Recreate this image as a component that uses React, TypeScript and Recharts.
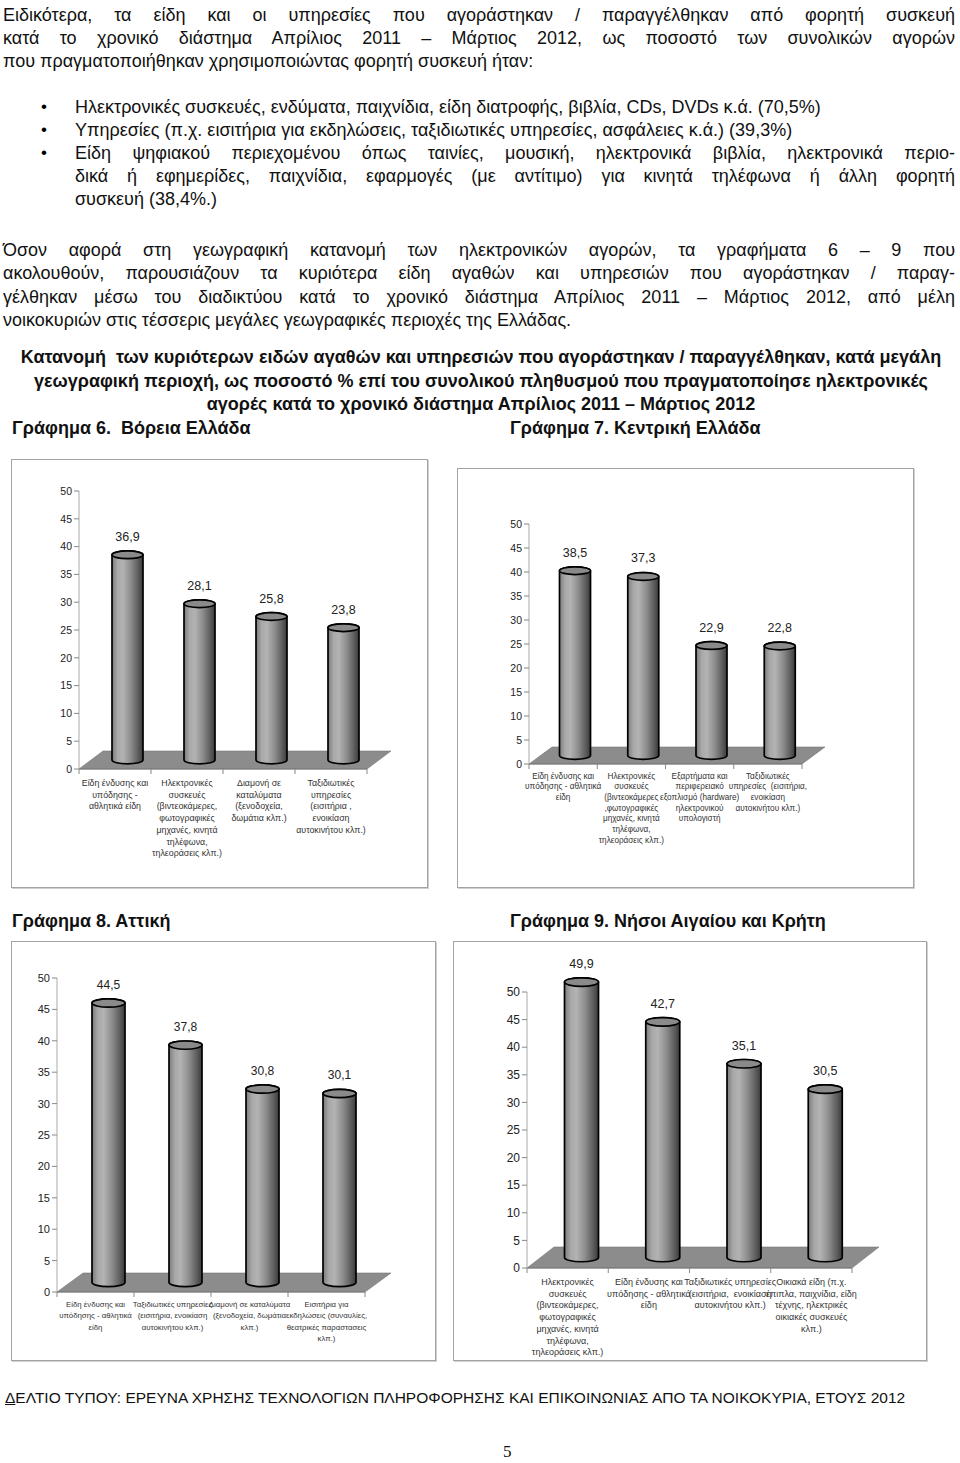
import React from "react";
import { BarChart, Bar, XAxis, YAxis, ReferenceArea, LabelList } from "recharts";

// ---- data ----
const yTicks = [0, 5, 10, 15, 20, 25, 30, 35, 40, 45, 50];

const northCategories = [
  "Είδη ένδυσης και\nυπόδησης -\nαθλητικά είδη",
  "Ηλεκτρονικές\nσυσκευές\n(βιντεοκάμερες,\nφωτογραφικές\nμηχανές, κινητά\nτηλέφωνα,\nτηλεοράσεις κλπ.)",
  "Διαμονή σε\nκαταλύματα\n(ξενοδοχεία,\nδωμάτια κλπ.)",
  "Ταξιδιωτικές\nυπηρεσίες\n(εισιτήρια ,\nενοικίαση\nαυτοκινήτου κλπ.)",
];
const northValues = [36.9, 28.1, 25.8, 23.8];

const centralCategories = [
  "Είδη ένδυσης και\nυπόδησης - αθλητικά\nείδη",
  "Ηλεκτρονικές\nσυσκευές\n(βιντεοκάμερες\n,φωτογραφικές\nμηχανές, κινητά\nτηλέφωνα,\nτηλεοράσεις κλπ.)",
  "Εξαρτήματα και\nπεριφερειακό\nεξοπλισμό (hardware)\nηλεκτρονικού\nυπολογιστή",
  "Ταξιδιωτικές\nυπηρεσίες  (εισιτήρια,\nενοικίαση\nαυτοκινήτου κλπ.)",
];
const centralValues = [38.5, 37.3, 22.9, 22.8];

const atticaCategories = [
  "Είδη ένδυσης και\nυπόδησης - αθλητικά\nείδη",
  "Ταξιδιωτικές υπηρεσίες\n(εισιτήρια, ενοικίαση\nαυτοκινήτου κλπ.)",
  "Διαμονή σε καταλύματα\n(ξενοδοχεία, δωμάτια\nκλπ.)",
  "Εισιτήρια για\nεκδηλώσεις (συναυλίες,\nθεατρικές παραστασεις\nκλπ.)",
];
const atticaValues = [44.5, 37.8, 30.8, 30.1];

const islandsCategories = [
  "Ηλεκτρονικές\nσυσκευές\n(βιντεοκάμερες,\nφωτογραφικές\nμηχανές, κινητά\nτηλέφωνα,\nτηλεοράσεις κλπ.)",
  "Είδη ένδυσης και\nυπόδησης - αθλητικά\nείδη",
  "Ταξιδιωτικές υπηρεσίες\n(εισιτήρια,  ενοικίαση\nαυτοκινήτου κλπ.)",
  "Οικιακά είδη (π.χ.\nέπιπλα, παιχνίδια, είδη\nτέχνης, ηλεκτρικές\nοικιακές συσκευές\nκλπ.)",
];
const islandsValues = [49.9, 42.7, 35.1, 30.5];

// ---- layout ----
type Layout = {
  id: string;
  frame: { l: number; t: number; r: number; b: number };
  axisX: number;
  y50: number;
  y0: number;
  xEnd: number;
  dx: number;
  dy: number;
  barSize: number;
  tickFont: number;
  valueFont: number;
  catFont: number;
  catLine: number;
  catTop: number;
};

const chartFont = "'Liberation Sans', Arial, sans-serif";
const textFont = "'Liberation Sans', Arial, sans-serif";

const layoutNorth: Layout = {
  id: "n", frame: { l: 11, t: 459, r: 428, b: 888 },
  axisX: 79, y50: 491, y0: 769, xEnd: 367, dx: 24, dy: 18, barSize: 31,
  tickFont: 10.5, valueFont: 12.5, catFont: 8.8, catLine: 11.7, catTop: 14,
};
const layoutCentral: Layout = {
  id: "c", frame: { l: 457, t: 468, r: 914, b: 888 },
  axisX: 529, y50: 524, y0: 764, xEnd: 802, dx: 23, dy: 17, barSize: 31,
  tickFont: 10.5, valueFont: 12.5, catFont: 8.2, catLine: 10.7, catTop: 12,
};
const layoutAttica: Layout = {
  id: "a", frame: { l: 11, t: 941, r: 436, b: 1361 },
  axisX: 57, y50: 978, y0: 1292, xEnd: 365, dx: 26, dy: 19, barSize: 33,
  tickFont: 11, valueFont: 12, catFont: 7.8, catLine: 11.5, catTop: 12,
};
const layoutIslands: Layout = {
  id: "i", frame: { l: 453, t: 941, r: 927, b: 1361 },
  axisX: 527, y50: 992, y0: 1268, xEnd: 852, dx: 27, dy: 21, barSize: 34,
  tickFont: 12, valueFont: 12.5, catFont: 9, catLine: 11.7, catTop: 14,
};

const fmt = (v: number) => v.toFixed(1).replace(".", ",");

function Cylinder(props: any) {
  const { x, y, width, height, dx, dy, gid } = props;
  if (width == null || height == null) return null;
  const left = x + dx / 2;
  const top = y - dy / 2;
  const bot = y + height - dy / 2;
  const rx = width / 2;
  const ry = Math.max(3, width * 0.125);
  const body = `M${left},${top} L${left},${bot} A${rx},${ry} 0 0 0 ${left + width},${bot} L${left + width},${top} A${rx},${ry} 0 0 0 ${left},${top} Z`;
  return (
    <g>
      <defs>
        <linearGradient id={gid} x1="0" y1="0" x2="1" y2="0">
          <stop offset="0%" stopColor="#7c7c7c" />
          <stop offset="18%" stopColor="#a8a8a8" />
          <stop offset="35%" stopColor="#b3b3b3" />
          <stop offset="60%" stopColor="#8e8e8e" />
          <stop offset="85%" stopColor="#5c5c5c" />
          <stop offset="100%" stopColor="#3a3a3a" />
        </linearGradient>
      </defs>
      <path d={body} fill={`url(#${gid})`} stroke="#000" strokeWidth={1.7} />
      <ellipse cx={left + rx} cy={top} rx={rx} ry={ry} fill="#8a8a8a" stroke="#000" strokeWidth={1.7} />
    </g>
  );
}

function Floor(props: any) {
  const { x, y, width, dx, dy } = props;
  if (x == null || width == null) return null;
  const pts = `${x},${y} ${x + width},${y} ${x + width + dx},${y - dy} ${x + dx},${y - dy}`;
  return <polygon points={pts} fill="#8c8c8c" stroke="#777" strokeWidth={0.6} />;
}

function CylinderChart({ categories, values, layout }: { categories: string[]; values: number[]; layout: Layout }) {
  const data = categories.map((name, i) => ({ name, value: values[i] }));
  const { frame, axisX, y50, y0, xEnd, dx, dy, barSize } = layout;
  const W = frame.r - frame.l;
  const H = frame.b - frame.t;
  const YW = 40;
  const XH = 100;
  const margin = {
    left: axisX - frame.l - YW,
    top: y50 - frame.t,
    right: frame.r - xEnd,
    bottom: H - (y0 - frame.t) - XH,
  };
  const band = (xEnd - axisX) / categories.length;

  const catTick = (p: any) => {
    const lines = String(p.payload.value).split("\n");
    const last = p.index === categories.length - 1;
    return (
      <g>
        <line x1={p.x - band / 2} y1={p.y} x2={p.x - band / 2} y2={p.y + 5} stroke="#888" />
        {last && <line x1={p.x + band / 2} y1={p.y} x2={p.x + band / 2} y2={p.y + 5} stroke="#888" />}
        {lines.map((ln: string, i: number) => (
          <text
            key={i}
            x={p.x}
            y={p.y + layout.catTop + i * layout.catLine}
            textAnchor="middle"
            dominantBaseline="central"
            fontSize={layout.catFont}
            fill="#333"
            fontFamily={chartFont}
            style={{ whiteSpace: "pre" }}
          >
            {ln}
          </text>
        ))}
      </g>
    );
  };

  const valueLabel = (p: any) => {
    const { x, y, width, value } = p;
    return (
      <text
        x={x + width / 2 + dx / 2}
        y={y - dy / 2 - 18}
        textAnchor="middle"
        dominantBaseline="central"
        fontSize={layout.valueFont}
        fill="#222"
        fontFamily={chartFont}
      >
        {fmt(Number(value))}
      </text>
    );
  };

  return (
    <>
      <div
        style={{
          position: "absolute",
          left: frame.l,
          top: frame.t,
          width: W,
          height: H,
          boxSizing: "border-box",
          border: "1.5px solid #a3a3a3",
          boxShadow: "1px 1px 0 #d0d0d0",
        }}
      />
      <div style={{ position: "absolute", left: frame.l, top: frame.t }}>
        <BarChart width={W} height={H} data={data} margin={margin}>
          <ReferenceArea
            y1={0}
            y2={0}
            ifOverflow="visible"
            shape={(p: any) => <Floor {...p} dx={dx} dy={dy} />}
          />
          <XAxis
            dataKey="name"
            interval={0}
            height={XH}
            tickLine={false}
            tickSize={0}
            tickMargin={0}
            axisLine={{ stroke: "#777" }}
            tick={catTick}
          />
          <YAxis
            width={YW}
            domain={[0, 50]}
            ticks={yTicks}
            interval={0}
            tickSize={5}
            tickMargin={2}
            tickLine={{ stroke: "#888" }}
            axisLine={{ stroke: "#aaa" }}
            tick={{ fontSize: layout.tickFont, fill: "#222", fontFamily: chartFont }}
          />
          <Bar
            dataKey="value"
            barSize={barSize}
            isAnimationActive={false}
            shape={(p: any) => <Cylinder {...p} dx={dx} dy={dy} gid={`g-${layout.id}-${p.index}`} />}
          >
            <LabelList dataKey="value" content={valueLabel} />
          </Bar>
        </BarChart>
      </div>
    </>
  );
}

// ---- text blocks ----
type Line = { text: string; x: number; y: number; w?: number; justify?: boolean };

const LINE_H = 22;

function TextLine({ line, size, weight, align }: { line: Line; size: number; weight?: number; align?: "center" | "left" }) {
  const justify = !!line.justify;
  return (
    <div
      style={{
        position: "absolute",
        left: line.x,
        top: line.y - LINE_H / 2,
        width: line.w ?? 952,
        height: LINE_H,
        lineHeight: `${LINE_H}px`,
        fontSize: size,
        fontWeight: weight ?? 400,
        fontFamily: textFont,
        color: "#111",
        textAlign: justify ? "justify" : align ?? "left",
        textAlignLast: justify ? "justify" : align ?? "left",
        whiteSpace: justify ? "normal" : "pre",
      }}
    >
      {line.text}
    </div>
  );
}

const para1: Line[] = [
  { text: "Ειδικότερα, τα είδη και οι υπηρεσίες που αγοράστηκαν / παραγγέλθηκαν από φορητή συσκευή", x: 3, y: 15, justify: true },
  { text: "κατά το χρονικό διάστημα Απρίλιος 2011 – Μάρτιος 2012, ως ποσοστό των συνολικών αγορών", x: 3, y: 38, justify: true },
  { text: "που πραγματοποιήθηκαν χρησιμοποιώντας φορητή συσκευή ήταν:", x: 3, y: 61 },
];

const bullets: Line[] = [
  { text: "Ηλεκτρονικές συσκευές, ενδύματα, παιχνίδια, είδη διατροφής, βιβλία, CDs, DVDs κ.ά. (70,5%)", x: 75, y: 107 },
  { text: "Υπηρεσίες (π.χ. εισιτήρια για εκδηλώσεις, ταξιδιωτικές υπηρεσίες, ασφάλειες κ.ά.) (39,3%)", x: 75, y: 130 },
  { text: "Είδη ψηφιακού περιεχομένου όπως ταινίες, μουσική, ηλεκτρονικά βιβλία, ηλεκτρονικά περιο-", x: 75, y: 153, w: 880, justify: true },
  { text: "δικά ή εφημερίδες, παιχνίδια, εφαρμογές (με αντίτιμο) για κινητά τηλέφωνα ή άλλη φορητή", x: 75, y: 176, w: 880, justify: true },
  { text: "συσκευή (38,4%.)", x: 75, y: 199 },
];
const bulletDots = [107, 130, 153];

const para2: Line[] = [
  { text: "Όσον αφορά στη γεωγραφική κατανομή των ηλεκτρονικών αγορών, τα γραφήματα 6 – 9 που", x: 3, y: 250, justify: true },
  { text: "ακολουθούν, παρουσιάζουν τα  κυριότερα είδη αγαθών και υπηρεσιών που αγοράστηκαν / παραγ-", x: 3, y: 273, justify: true },
  { text: "γέλθηκαν μέσω του διαδικτύου κατά το χρονικό διάστημα  Απρίλιος  2011 – Μάρτιος 2012, από μέλη", x: 3, y: 297, justify: true },
  { text: "νοικοκυριών στις τέσσερις μεγάλες γεωγραφικές περιοχές της Ελλάδας.", x: 3, y: 320 },
];

const titleLines: Line[] = [
  { text: "Κατανομή  των κυριότερων ειδών αγαθών και υπηρεσιών που αγοράστηκαν / παραγγέλθηκαν, κατά μεγάλη", x: 0, y: 357, w: 962 },
  { text: "γεωγραφική περιοχή, ως ποσοστό % επί του συνολικού πληθυσμού που πραγματοποίησε ηλεκτρονικές", x: 0, y: 381, w: 962 },
  { text: "αγορές κατά το χρονικό διάστημα Απρίλιος 2011 – Μάρτιος 2012", x: 0, y: 404, w: 962 },
];

const chartTitles: Line[] = [
  { text: "Γράφημα 6.  Βόρεια Ελλάδα", x: 12, y: 428, w: 400 },
  { text: "Γράφημα 7. Κεντρική Ελλάδα", x: 510, y: 428, w: 400 },
  { text: "Γράφημα 8. Αττική", x: 12, y: 921, w: 400 },
  { text: "Γράφημα 9. Νήσοι Αιγαίου και Κρήτη", x: 510, y: 921, w: 440 },
];

export default function App() {
  return (
    <div style={{ position: "absolute", left: 0, top: 0, width: 960, height: 1463, background: "#fff", overflow: "hidden" }}>
      {para1.map((l, i) => <TextLine key={"p1" + i} line={l} size={18} />)}
      {bulletDots.map((y, i) => (
        <div key={"d" + i} style={{ position: "absolute", left: 41, top: y - 11, lineHeight: "22px", fontSize: 17, fontFamily: textFont }}>•</div>
      ))}
      {bullets.map((l, i) => <TextLine key={"b" + i} line={l} size={18} />)}
      {para2.map((l, i) => <TextLine key={"p2" + i} line={l} size={18} />)}
      {titleLines.map((l, i) => <TextLine key={"t" + i} line={l} size={18} weight={700} align="center" />)}
      {chartTitles.map((l, i) => <TextLine key={"c" + i} line={l} size={18} weight={700} />)}

      <CylinderChart categories={northCategories} values={northValues} layout={layoutNorth} />
      <CylinderChart categories={centralCategories} values={centralValues} layout={layoutCentral} />
      <CylinderChart categories={atticaCategories} values={atticaValues} layout={layoutAttica} />
      <CylinderChart categories={islandsCategories} values={islandsValues} layout={layoutIslands} />

      <div style={{ position: "absolute", left: 5, top: 1387, lineHeight: "22px", fontSize: 15.5, fontFamily: textFont, color: "#111", whiteSpace: "pre" }}>
        <span style={{ textDecoration: "underline" }}>Δ</span>ΕΛΤΙΟ ΤΥΠΟΥ: ΕΡΕΥΝΑ ΧΡΗΣΗΣ ΤΕΧΝΟΛΟΓΙΩΝ ΠΛΗΡΟΦΟΡΗΣΗΣ ΚΑΙ ΕΠΙΚΟΙΝΩΝΙΑΣ ΑΠΟ ΤΑ ΝΟΙΚΟΚΥΡΙΑ, ΕΤΟΥΣ 2012
      </div>
      <div style={{ position: "absolute", left: 503, top: 1441, lineHeight: "22px", fontSize: 17, fontFamily: "'Liberation Serif', serif", color: "#111" }}>
        5
      </div>
    </div>
  );
}
